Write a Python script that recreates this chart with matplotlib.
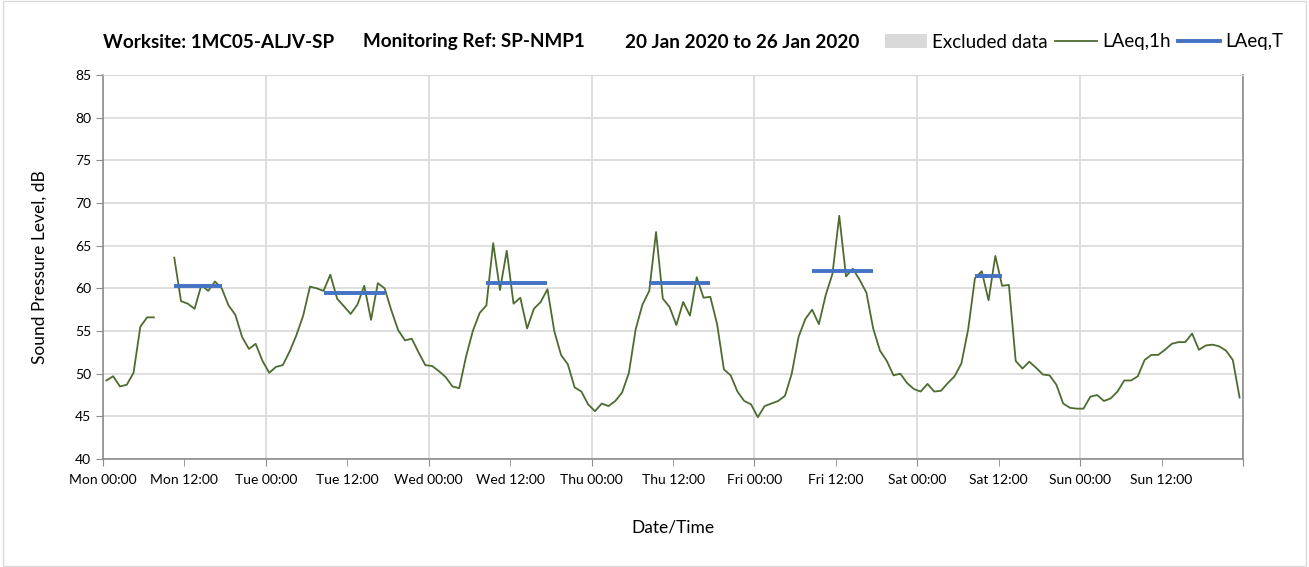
import numpy as np
import matplotlib
matplotlib.use("Agg")
import matplotlib.pyplot as plt
from matplotlib.patches import Patch, Rectangle
from matplotlib.lines import Line2D

plt.rcParams['font.family'] = ['Lato', 'DejaVu Sans']

# hourly LAeq,1h readings, Mon 00:00 -> Sun 23:00 (nan = no data)
laeq_1h = [49.2, 49.7, 48.5, 48.7, 50.1, 55.5, 56.6, 56.6, np.nan, np.nan,
           63.6, 58.5, 58.2, 57.6, 60.4, 59.7, 60.8, 60.0, 58.0, 56.9,
           54.3, 52.9, 53.5, 51.5, 50.1, 50.8, 51.0, 52.6, 54.5, 56.8,
           60.2, 60.0, 59.7, 61.6, 58.8, 57.9, 57.0, 58.1, 60.3, 56.3,
           60.6, 60.0, 57.4, 55.1, 53.9, 54.1, 52.5, 51.0, 50.9, 50.3,
           49.6, 48.5, 48.3, 52.0, 55.0, 57.1, 58.0, 65.3, 59.8, 64.4,
           58.2, 58.9, 55.3, 57.6, 58.4, 59.9, 55.0, 52.2, 51.1, 48.4,
           47.9, 46.4, 45.6, 46.5, 46.2, 46.8, 47.8, 50.1, 55.2, 58.1,
           59.7, 66.6, 58.8, 57.8, 55.7, 58.4, 56.8, 61.3, 58.9, 59.0,
           55.8, 50.5, 49.8, 47.9, 46.8, 46.4, 44.9, 46.2, 46.5, 46.8,
           47.4, 50.0, 54.3, 56.4, 57.5, 55.8, 59.2, 61.7, 68.5, 61.4,
           62.3, 61.0, 59.5, 55.3, 52.7, 51.5, 49.8, 50.0, 48.9, 48.2,
           47.9, 48.8, 47.9, 48.0, 48.9, 49.7, 51.2, 55.2, 61.2, 62.0,
           58.6, 63.8, 60.3, 60.4, 51.5, 50.6, 51.4, 50.7, 49.9, 49.8,
           48.7, 46.5, 46.0, 45.9, 45.9, 47.3, 47.5, 46.8, 47.1, 47.9,
           49.2, 49.2, 49.7, 51.6, 52.2, 52.2, 52.8, 53.5, 53.7, 53.7,
           54.7, 52.8, 53.3, 53.4, 53.2, 52.7, 51.6, 47.2]

# LAeq,T periods: first hour, last hour, level
period_start = [10, 32, 56, 80, 104, 128]
period_end = [17, 41, 65, 89, 113, 132]
period_level = [60.25, 59.4, 60.65, 60.6, 62.05, 61.45]

days = ['Mon', 'Tue', 'Wed', 'Thu', 'Fri', 'Sat', 'Sun']
title_parts = ['Worksite: 1MC05-ALJV-SP', 'Monitoring Ref: SP-NMP1', '20 Jan 2020 to 26 Jan 2020']

green = '#4e6b30'
blue = '#4472c4'
grid_c = '#d9d9d9'
axis_c = '#8c8c8c'

fig = plt.figure(figsize=(13.09, 5.67), dpi=100)
ax = fig.add_axes([103/1309, 1-459/567, 1140/1309, 384/567])

hours = np.arange(len(laeq_1h)) + 0.5
ax.plot(hours, laeq_1h, color=green, lw=1.3)

for s, e, lv in zip(period_start, period_end, period_level):
    ax.plot([s + 0.5, e + 0.5], [lv, lv], color=blue, lw=2.8, solid_capstyle='butt')

ax.set_xlim(0, 168)
ax.set_ylim(40, 85)
ax.set_yticks(np.arange(40, 86, 5))

ax.set_xticks(np.arange(0, 169, 24))
ax.set_xticklabels([d + ' 00:00' for d in days] + [''])
ax.set_xticks(np.arange(12, 168, 24), minor=True)
ax.set_xticklabels([d + ' 12:00' for d in days], minor=True)

ax.grid(True, which='major', color=grid_c, lw=1.2)
ax.set_axisbelow(True)
ax.tick_params(which='both', axis='x', length=5, color=axis_c, labelsize=10, pad=6)
ax.tick_params(axis='y', length=5, color=axis_c, labelsize=10)

for side in ['left', 'bottom', 'right']:
    ax.spines[side].set_color(axis_c)
    ax.spines[side].set_linewidth(1.2)
ax.spines['top'].set_color(grid_c)

ax.set_ylabel('Sound Pressure Level, dB', fontsize=12.5, labelpad=20)
ax.set_xlabel('Date/Time', fontsize=12.5, labelpad=24)

# title in three pieces, like the original header
for xpx, txt in zip([103, 363, 625], title_parts):
    fig.text(xpx/1309, 1-42/567, txt, fontsize=13.6, fontweight='bold', va='center', ha='left')

handles = [Patch(facecolor=grid_c, edgecolor='none'),
           Line2D([], [], color=green, lw=1.3),
           Line2D([], [], color=blue, lw=2.8)]
fig.legend(handles, ['Excluded data', 'LAeq,1h', 'LAeq,T'], ncol=3, frameon=False,
           loc='center right', bbox_to_anchor=(1300/1309, 1-42/567), fontsize=13.5,
           handlelength=2.2, handletextpad=0.3, columnspacing=0.4)

fig.patches.append(Rectangle((0.002, 0.002), 0.996, 0.996, transform=fig.transFigure,
                             fill=False, edgecolor=grid_c, lw=1))

fig.savefig('out.png', dpi=100)
